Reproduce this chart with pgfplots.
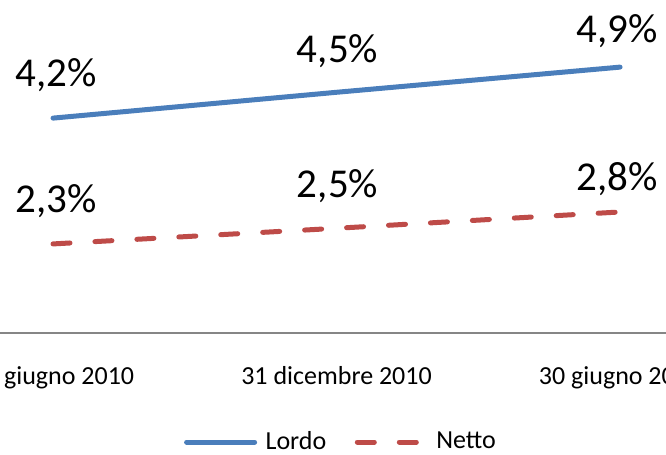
\documentclass[border=0pt]{standalone}
\usepackage{fontspec}
\setmainfont{Carlito}
\usepackage{pgfplots}
\usepackage{pgfplotstable}
\pgfplotsset{compat=1.18}
\definecolor{lordo}{HTML}{4A7EBB}
\definecolor{netto}{HTML}{BE4B48}
\definecolor{asse}{HTML}{868686}

% x = period, y = rate (%), dx/dy = label offsets in pt
\pgfplotstableread{
x y dx dy
0 4.16 1.5 16
1 4.54 0.5 15
2 4.91 -1.5 12.5
}\lordo
\pgfplotstableread{
x y dx dy
0 2.31 1.5 15.5
1 2.54 0.5 15.5
2 2.78 -1.5 10.5
}\netto

\begin{document}
\begin{tikzpicture}
\begin{axis}[
    at={(0pt,0pt)}, anchor=north west,
    scale only axis,
    width=333pt, height=166.5pt,
    xmin=-0.187, xmax=2.162,
    ymin=1, ymax=5.897,
    axis x line*=bottom,
    axis y line=none,
    x axis line style={asse, line width=0.9pt},
    xtick={0,1,2},
    xticklabels={30 giugno 2010, 31 dicembre 2010, 30 giugno 2011},
    major tick length=0pt,
    xticklabel style={font=\fontsize{13}{15}\selectfont, anchor=base, yshift=-25.5pt, inner sep=0pt},
    legend columns=2,
    legend image code/.code={\draw[#1, line cap=round] (0pt,0pt) -- (34pt,0pt);},
    legend style={at={(0.5105,-0.3273)}, anchor=center, draw=none, fill=none,
        inner sep=0pt, outer sep=0pt, font=\fontsize{13}{15}\selectfont,
        nodes={inner sep=0pt},
        /tikz/every odd column/.append style={column sep=4.25pt},
        /tikz/every even column/.append style={column sep=14.25pt}},
    nodes near coords={\pgfmathprintnumber[fixed, precision=1, fixed zerofill, use comma, assume math mode=true]{\pgfplotspointmeta}\%},
    visualization depends on={\thisrow{dx} \as \dx},
    visualization depends on={\thisrow{dy} \as \dy},
    every node near coord/.append style={anchor=base, xshift=\dx pt, yshift=\dy pt,
        font=\fontsize{20.5}{24}\selectfont, text=black, inner sep=0pt},
]
\addplot[lordo, line width=2.5pt, line cap=round] table[x=x, y=y] {\lordo};
\addlegendentry{Lordo}
\addplot[netto, line width=2.5pt, line cap=round, dash pattern=on 8.5pt off 12.5pt] table[x=x, y=y] {\netto};
\addlegendentry{Netto}
\end{axis}
\pgfresetboundingbox
\path[use as bounding box] (0pt,0pt) rectangle (333pt,-227.5pt);
\end{tikzpicture}
\end{document}
